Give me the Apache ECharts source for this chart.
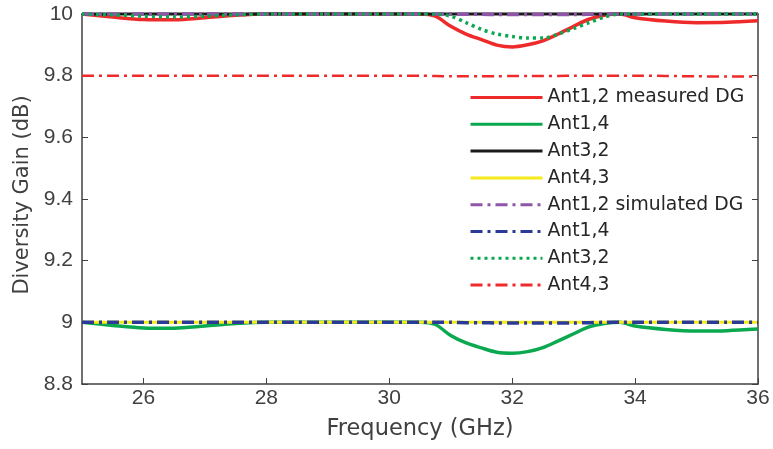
<!DOCTYPE html>
<html><head><meta charset="utf-8">
<script src="https://cdn.jsdelivr.net/npm/echarts@6/dist/echarts.min.js"></script>
<style>html,body{margin:0;padding:0;background:#fff}#c{width:773px;height:449px}</style>
</head><body><div id="c"></div>
<script>
var freq = [25,25.5,26,26.5,27,27.5,28,28.5,29,29.5,30,30.5,30.75,31,31.25,31.5,31.75,32,32.25,32.5,32.75,33,33.25,33.5,33.75,34,34.5,35,35.5,36];
var yTicks = [8.8,9,9.2,9.4,9.6,9.8,10];
var xTicks = [26,28,30,32,34,36];
var measAnt12 = [10,9.99,9.982,9.981,9.988,9.996,10,10,10,10,10,10,9.993,9.96,9.935,9.917,9.899,9.893,9.9,9.913,9.935,9.96,9.983,9.996,10,9.988,9.977,9.972,9.973,9.978];
var measAnt14 = [9,8.99,8.982,8.981,8.988,8.996,9,9,9,9,9,9,8.993,8.957,8.933,8.917,8.903,8.9,8.905,8.918,8.94,8.963,8.985,8.996,9,8.988,8.977,8.972,8.973,8.978];
var measAnt32 = [10,10,10,10,10,10,10,10,10,10,10,10,10,10,10,10,10,10,10,10,10,10,10,10,10,10,10,10,10,10];
var measAnt43 = [9,9,9,9,9,9,9,9,9,9,9,9,9,9,9,9,9,9,9,9,9,9,9,9,9,9,9,9,9,9];
var simAnt12 = [10,10,10,10,10,10,10,10,10,10,10,10,10,10,9.999,9.999,9.998,9.998,9.998,9.998,9.998,9.998,9.999,10,10,10,10,10,10,10];
var simAnt14 = [9,9,9,9,9,9,9,9,9,9,9,9,9,9,8.999,8.999,8.998,8.998,8.998,8.998,8.998,8.998,8.999,9,9,9,9,9,9,9];
var simAnt32 = [10,9.997,9.993,9.99,9.993,9.997,10,10,10,10,10,10,10,9.993,9.972,9.95,9.935,9.927,9.922,9.922,9.935,9.953,9.972,9.99,10,10,10,10,10,10];
var simAnt43 = [9.8,9.8,9.8,9.8,9.8,9.8,9.8,9.8,9.8,9.8,9.8,9.8,9.799,9.798,9.798,9.798,9.798,9.799,9.799,9.799,9.799,9.8,9.8,9.8,9.8,9.8,9.799,9.798,9.797,9.797];
var names = ['Ant1,2 measured DG','Ant1,4','Ant3,2','Ant4,3','Ant1,2 simulated DG','Ant1,4 ','Ant3,2 ','Ant4,3 '];

function pts(arr){ return freq.map(function(f,i){ return [f, arr[i]]; }); }
var dashDot = [12,5,3,5];
function ser(name, arr, color, type, width){
  return {name:name, type:'line', data:pts(arr), smooth:0.3, symbol:'none', clip:false,
    lineStyle:{color:color, width:width, type:type}, itemStyle:{color:color}};
}
var chart = echarts.init(document.getElementById('c'), null, {renderer:'canvas'});
var txt = '#404040';
var ff = 'Liberation Sans, Arial, sans-serif';
var wide = 'DejaVu Sans, sans-serif';
chart.setOption({
  animation:false,
  grid:{left:82, right:15, top:14, bottom:65},
  legend:{orient:'vertical', left:464, top:83, itemWidth:72, itemHeight:14, itemGap:7.8,
    itemStyle:{opacity:0}, lineStyle:{width:3},
    textStyle:{fontSize:18.8, color:'#262626', fontFamily:wide, padding:[0,0,0,0]},
    data:names},
  xAxis:[{type:'value', min:25, max:36, interval:1, position:'bottom',
    name:'Frequency (GHz)', nameLocation:'middle', nameGap:34,
    nameTextStyle:{fontSize:22.5, color:txt, fontFamily:wide},
    axisLine:{show:true, lineStyle:{color:txt, width:1.5}},
    axisTick:{show:true, inside:true, length:6, lineStyle:{color:txt}, customValues:xTicks},
    axisLabel:{color:txt, fontSize:21, fontFamily:ff, margin:4, customValues:xTicks},
    splitLine:{show:false}},
   {type:'value', min:25, max:36, position:'top', axisLine:{show:true, lineStyle:{color:txt, width:1.5}},
    axisTick:{show:false}, axisLabel:{show:false}, splitLine:{show:false}}],
  yAxis:[{type:'value', min:8.8, max:10, interval:0.2, position:'left',
    name:'Diversity Gain (dB)', nameLocation:'middle', nameGap:49,
    nameTextStyle:{fontSize:21, color:txt, fontFamily:wide, padding:[0,0,0,8]},
    axisLine:{show:true, lineStyle:{color:txt, width:1.5}},
    axisTick:{show:true, inside:true, length:6, lineStyle:{color:txt}},
    axisLabel:{color:txt, fontSize:21, fontFamily:ff, margin:9,
      formatter:function(v){ var r=Math.round(v*10)/10; return (Math.abs(r-Math.round(r))<1e-9)? String(Math.round(r)) : r.toFixed(1); }},
    splitLine:{show:false}},
   {type:'value', min:8.8, max:10, interval:0.2, position:'right',
    axisLine:{show:true, lineStyle:{color:txt, width:1.5}},
    axisTick:{show:true, inside:true, length:6, lineStyle:{color:txt}},
    axisLabel:{show:false}, splitLine:{show:false}}],
  series:[
    ser(names[0], measAnt12, '#ee2a2a', 'solid', 3.5),
    ser(names[1], measAnt14, '#0aa84f', 'solid', 3.5),
    ser(names[2], measAnt32, '#1a1a1a', 'solid', 3),
    ser(names[3], measAnt43, '#f5ea1a', 'solid', 3),
    ser(names[4], simAnt12, '#8e55a8', dashDot, 3.5),
    ser(names[5], simAnt14, '#2b3a96', dashDot, 3.5),
    ser(names[6], simAnt32, '#0aa84f', [3,4], 3.5),
    ser(names[7], simAnt43, '#ee2a2a', dashDot, 2.5)
  ]
});
</script></body></html>
